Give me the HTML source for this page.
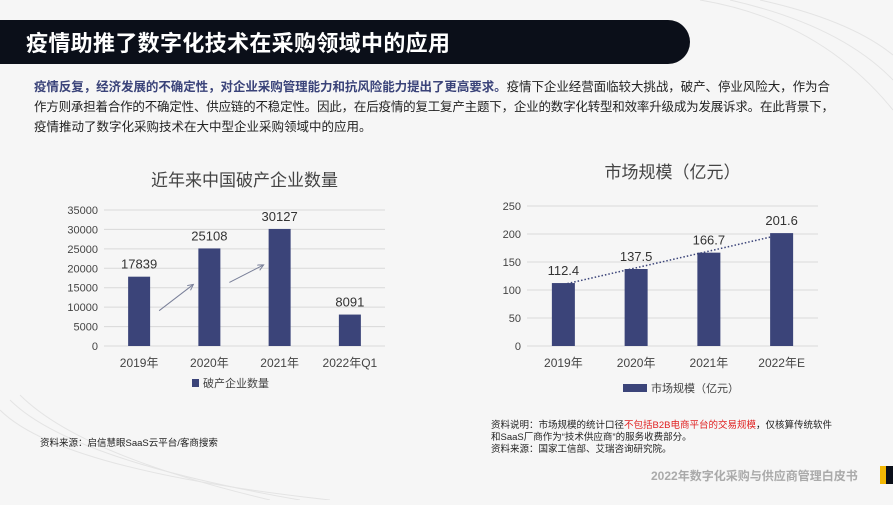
<!DOCTYPE html>
<html><head><meta charset="utf-8"><style>
body{margin:0;width:893px;height:500px;overflow:hidden;background:#f6f6f6;font-family:"Liberation Sans","Noto Sans CJK SC",sans-serif;}
</style></head><body>
<svg width="893" height="500" xmlns="http://www.w3.org/2000/svg" style="font-family:'Liberation Sans','Noto Sans CJK SC',sans-serif">
<rect width="893" height="500" fill="#f6f6f6"/>
<g fill="none" stroke="#e4e4e4" stroke-width="1">
<path d="M700 0 Q820 20 893 110"/><path d="M730 0 Q840 25 893 80"/><path d="M760 0 Q850 20 893 55"/>
<path d="M0 410 Q60 470 330 500"/><path d="M10 400 Q70 460 300 500"/><path d="M20 395 Q80 455 270 500"/>
</g>
<path d="M0 20 H668 A22 22 0 0 1 668 64 H0 Z" fill="#0b0f19"/>
<text x="26" y="51" fill="#fff" font-size="22" font-weight="bold" textLength="424">疫情助推了数字化技术在采购领域中的应用</text>
<g font-size="12.5" fill="#222">
<text x="34" y="91" textLength="796"><tspan fill="#3a4379" font-weight="bold">疫情反复，经济发展的不确定性，对企业采购管理能力和抗风险能力提出了更高要求。</tspan>疫情下企业经营面临较大挑战，破产、停业风险大，作为合</text>
<text x="34" y="111" textLength="800">作方则承担着合作的不确定性、供应链的不稳定性。因此，在后疫情的复工复产主题下，企业的数字化转型和效率升级成为发展诉求。在此背景下，</text>
<text x="34" y="131">疫情推动了数字化采购技术在大中型企业采购领域中的应用。</text>
</g>
<g id="c1"></g>
<g id="c2"></g>
<g font-size="9.5" fill="#222">
<text x="40" y="446">资料来源：启信慧眼SaaS云平台/客商搜索</text>
<text x="491" y="428">资料说明：市场规模的统计口径<tspan fill="#e02020">不包括B2B电商平台的交易规模</tspan>，仅核算传统软件</text>
<text x="491" y="440">和SaaS厂商作为“技术供应商”的服务收费部分。</text>
<text x="491" y="452">资料来源：国家工信部、艾瑞咨询研究院。</text>
</g>
<text x="651" y="480" font-size="12" font-weight="bold" fill="#aaa">2022年数字化采购与供应商管理白皮书</text>
<rect x="880" y="466" width="13" height="18" fill="#f2b705"/>
<rect x="886" y="466" width="7" height="18" fill="#0b0f19"/>
</svg>
<script>
const NS="http://www.w3.org/2000/svg";
const c1Cats=["2019年","2020年","2021年","2022年Q1"];
const c1Vals=[17839,25108,30127,8091];
const c1Ticks=[0,5000,10000,15000,20000,25000,30000,35000];
const c2Cats=["2019年","2020年","2021年","2022年E"];
const c2Vals=[112.4,137.5,166.7,201.6];
const c2Labels=["112.4","137.5","166.7","201.6"];
const c2Ticks=[0,50,100,150,200,250];
function mk(p,tag,a,txt){const e=document.createElementNS(NS,tag);for(const k in a)e.setAttribute(k,a[k]);if(txt!=null)e.textContent=txt;p.appendChild(e);return e;}
function chart(g,o){
  const y=v=>o.y0-(v/o.max)*(o.y0-o.yTop);
  const bw=(o.x1-o.x0)/o.cats.length;
  const x=i=>o.x0+bw*(i+0.5);
  let t=mk(g,'text',{x:(o.x0+o.x1)/2,y:o.titleY,'text-anchor':'middle','font-size':17,fill:'#444'},o.title);
  
  
  o.ticks.forEach(v=>{
    let l=mk(g,'line',{x1:o.x0,x2:o.x1,y1:y(v),y2:y(v),stroke:'#d9d9d9'});
    
    
    let tt=mk(g,'text',{x:o.x0-6,y:y(v)+4,'text-anchor':'end','font-size':11,fill:'#444'},v);
    
    
  });
  o.vals.forEach((v,i)=>{
    let r=mk(g,'rect',{x:x(i)-o.w/2,y:y(v),width:o.w,height:y(0)-y(v),fill:'#3b4479'});
    
    
    let lb=mk(g,'text',{x:x(i),y:y(v)-8,'text-anchor':'middle','font-size':13,fill:'#333'},o.labels[i]);
    
    
    let c=mk(g,'text',{x:x(i),y:o.y0+21,'text-anchor':'middle','font-size':12,fill:'#444'},o.cats[i]);
    
    
  });
  const lg=mk(g,'g',{});
  
  
  mk(lg,'rect',{x:o.legX,y:o.legY-8,width:o.legW,height:8,fill:'#3b4479'});
  mk(lg,'text',{x:o.legX+o.legW+4,y:o.legY,'font-size':11,fill:'#444'},o.legend);
  return {x,y};
}
const g1=document.getElementById('c1');
const a1=chart(g1,{x0:104,x1:385,y0:346,yTop:210,max:35000,ticks:c1Ticks,vals:c1Vals,labels:c1Vals.map(String),cats:c1Cats,w:22,title:'近年来中国破产企业数量',titleY:186,legX:192,legY:387,legW:7,legend:'破产企业数量'});
mk(g1,'defs',{}).innerHTML='<marker id="ah" markerWidth="8" markerHeight="8" refX="6" refY="3" orient="auto"><path d="M0 0 L6 3 L0 6" fill="none" stroke="#7a8099"/></marker>';
[[0,1],[1,2]].forEach(([i,j])=>{
  const xa=a1.x(i)+20, xb=a1.x(j)-16;
  const ya=a1.y(c1Vals[i])+34, yb=a1.y(c1Vals[j])+36;
  let ar=mk(g1,'line',{x1:xa,y1:ya,x2:xb,y2:yb,stroke:'#7a8099','stroke-width':1,'marker-end':'url(#ah)'});
  
  
});
const g2=document.getElementById('c2');
const a2=chart(g2,{x0:527,x1:818,y0:346,yTop:206,max:250,ticks:c2Ticks,vals:c2Vals,labels:c2Labels,cats:c2Cats,w:23,title:'市场规模（亿元）',titleY:178,legX:623,legY:392,legW:24,legend:'市场规模（亿元）'});
const n=c2Vals.length,mx=(n-1)/2,my=c2Vals.reduce((a,b)=>a+b)/n;
let sxy=0,sxx=0;c2Vals.forEach((v,i)=>{sxy+=(i-mx)*(v-my);sxx+=(i-mx)*(i-mx);});
const sl=sxy/sxx,ic=my-sl*mx;
let tr=mk(g2,'line',{x1:a2.x(0)+4,y1:a2.y(ic+sl*0.05),x2:a2.x(n-1)-11,y2:a2.y(ic+sl*(n-1-0.15)),stroke:'#3b4479','stroke-width':1.5,'stroke-dasharray':'1.5 2'});


</script>
</body></html>
